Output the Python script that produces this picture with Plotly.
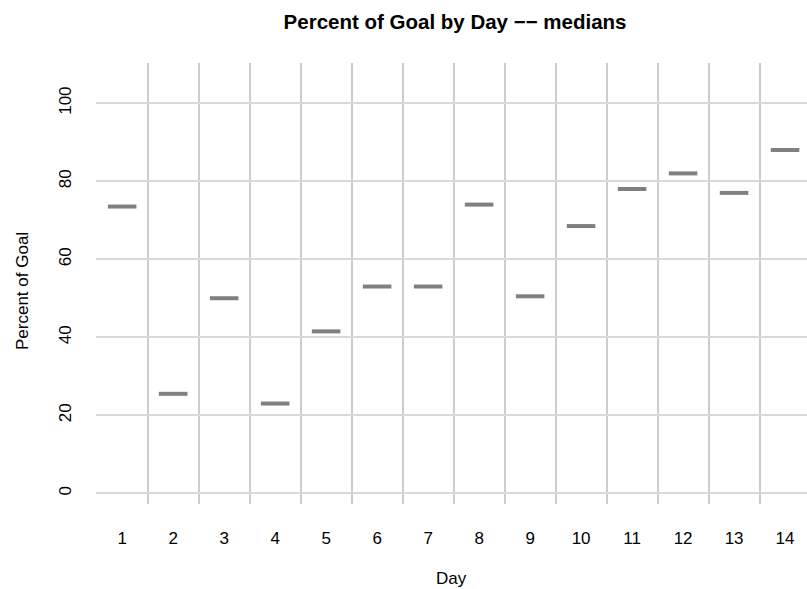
import plotly.graph_objects as go

# Median percent of goal reached on each day
days = list(range(1, 15))
medians = [73.5, 25.5, 50, 23, 41.5, 53, 53, 74, 50.5, 68.5, 78, 82, 77, 88]
y_ticks = [0, 20, 40, 60, 80, 100]

HALF = 0.28  # half-length of each median segment, in day units

seg_x, seg_y = [], []
for d, m in zip(days, medians):
    seg_x += [d - HALF, d + HALF, None]
    seg_y += [m, m, None]

fig = go.Figure()
fig.add_trace(go.Scatter(
    x=seg_x, y=seg_y, mode="lines",
    line=dict(color="#808080", width=4),
    hoverinfo="skip", showlegend=False,
))

FONT = "Liberation Sans, Arial, sans-serif"

fig.update_layout(
    width=807, height=589,
    margin=dict(l=96, r=0, t=63, b=85),
    paper_bgcolor="white", plot_bgcolor="white",
    font=dict(family=FONT, size=17, color="#000000"),
    title=dict(
        text="<b>Percent of Goal by Day \u2212\u2212 medians</b>",
        x=0.505, xref="paper", xanchor="center",
        y=1 - 22 / 589, yref="container", yanchor="middle",
        font=dict(family=FONT, size=20.5, color="#000000"),
    ),
    xaxis=dict(
        range=[0.487, 14.43],
        tickvals=days, ticktext=[str(d) for d in days],
        showgrid=False, zeroline=False, showline=False,
        ticks="", ticklabelstandoff=22,
        tickfont=dict(size=17),
        minor=dict(
            tickvals=[d - 0.5 for d in days],
            showgrid=True, gridcolor="#cccccc", gridwidth=1.5,
        ),
    ),
    yaxis=dict(
        range=[-2.75, 110.3],
        tickvals=y_ticks, ticktext=[str(v) for v in y_ticks],
        tickangle=-90,
        showgrid=True, gridcolor="#d9d9d9", gridwidth=1.5,
        zeroline=False, showline=False,
        ticks="", ticklabelstandoff=21,
        tickfont=dict(size=17),
    ),
    annotations=[
        dict(text="Day", xref="paper", yref="paper", x=0.5, y=-74 / 441,
             xanchor="center", yanchor="middle", showarrow=False,
             font=dict(size=17)),
        dict(text="Percent of Goal", xref="paper", yref="paper",
             x=-74 / 711, y=(504 - 291) / 441, textangle=-90,
             xanchor="center", yanchor="middle", showarrow=False,
             font=dict(size=17)),
    ],
)

fig.write_html("out.html")
